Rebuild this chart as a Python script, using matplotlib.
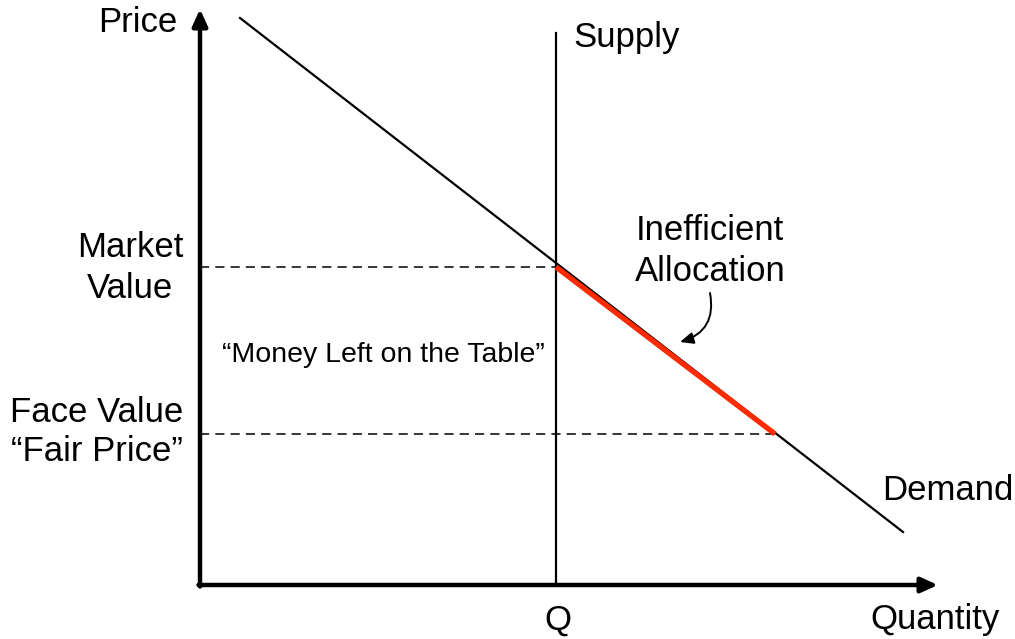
import matplotlib.pyplot as plt

plt.rcParams['font.family'] = ['Liberation Sans', 'DejaVu Sans']

# demand line end points (quantity, price)
demand_q = [40, 703]
demand_p = [567, 53]
supply_q = 356
supply_top = 552
market_value = 318
face_value = 151
q_face = 575   # where face value meets demand
axis_q_max = 738
axis_p_max = 576

fig = plt.figure(figsize=(10.15, 6.39), dpi=100)
ax = fig.add_axes([0, 0, 1, 1])
ax.set_xlim(-200, 815)
ax.set_ylim(-54, 585)
ax.axis('off')

# axes with arrows
arr = dict(arrowstyle='-|>,head_length=1.0,head_width=0.45', color='black', lw=3.2,
           shrinkA=0, shrinkB=0)
ax.annotate('', xy=(0, axis_p_max), xytext=(0, -1.5), arrowprops=arr)
ax.annotate('', xy=(axis_q_max, 0), xytext=(-1.5, 0), arrowprops=arr)

# demand and supply
ax.plot(demand_q, demand_p, color='black', lw=1.6)
ax.plot([supply_q, supply_q], [0, supply_top], color='black', lw=1.6)

# dashed price levels
ax.plot([0, supply_q], [market_value, market_value], color='black', lw=1.1, ls=(0, (6, 4)))
ax.plot([0, q_face], [face_value, face_value], color='black', lw=1.1, ls=(0, (6, 4)))

# inefficient segment
ax.plot([supply_q, q_face], [market_value, face_value], color='#ff2a00', lw=3.8,
        solid_capstyle='butt')

fs = 25
ax.text(-23, 563, 'Price', fontsize=fs, ha='right', va='center')
ax.text(373, 547, 'Supply', fontsize=fs, ha='left', va='center')
ax.text(-70, 317, 'Market\nValue', fontsize=fs, ha='center', va='center', linespacing=1.3)
ax.text(-103, 153, 'Face Value\n\u201cFair Price\u201d', fontsize=fs, ha='center', va='center',
        linespacing=1.25)
ax.text(510, 334, 'Inefficient\nAllocation', fontsize=fs, ha='center', va='center',
        linespacing=1.3)
ax.text(682, 95, 'Demand', fontsize=fs, ha='left', va='center')
ax.text(358, -35, 'Q', fontsize=fs, ha='center', va='center')
ax.text(670, -35, 'Quantity', fontsize=fs, ha='left', va='center')
ax.text(22, 230, '\u201cMoney Left on the Table\u201d', fontsize=20.5, ha='left', va='center')

# curved arrow to red segment
ax.annotate('', xy=(480, 243), xytext=(510, 292),
            arrowprops=dict(arrowstyle='-|>,head_length=0.8,head_width=0.35', color='black',
                            lw=1.4, connectionstyle='arc3,rad=-0.45', shrinkA=0, shrinkB=0))

fig.savefig('out.png', dpi=100)
